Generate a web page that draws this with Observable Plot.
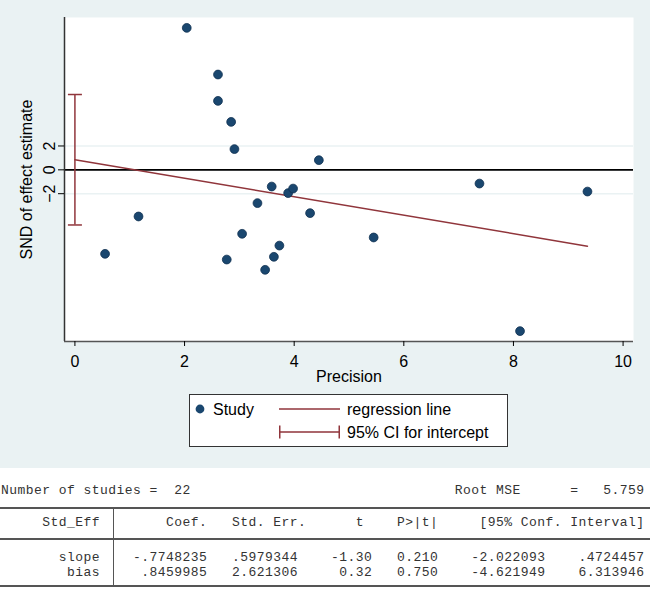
<!DOCTYPE html>
<html>
<head>
<meta charset="utf-8">
<script src="https://cdn.jsdelivr.net/npm/d3@7"></script>
<script src="https://cdn.jsdelivr.net/npm/@observablehq/plot@0.6"></script>
<style>
  html, body { margin: 0; padding: 0; background: #ffffff; }
  #page { position: relative; width: 650px; height: 590px; overflow: hidden; background: #ffffff; }
  #graph { position: absolute; left: 0; top: 0; width: 650px; height: 468px; background: #eaf2f3; }
  #legend { position: absolute; left: 189px; top: 394px; }
  #table { position: absolute; left: 0; top: 468px; width: 650px; height: 122px; background: #ffffff;
           font-family: "Liberation Mono", "Courier New", monospace; font-size: 13px; letter-spacing: 0.45px; color: #333; }
  .row { position: absolute; left: 1px; white-space: pre; line-height: 12px; height: 12px; }
  .hr { position: absolute; left: 0; width: 650px; height: 2px; background: #555; }
  .vr { position: absolute; width: 1.5px; background: #555; }
</style>
</head>
<body>
<div id="page">
  <div id="graph"></div>
  <div id="table"></div>
</div>
<script>
// ---- data ----
const precision = [2.04, 2.61, 2.61, 2.85, 2.91, 4.45, 3.59, 3.89, 3.98, 7.38, 9.35,
                   3.33, 1.16, 4.29, 3.05, 0.55, 2.77, 3.73, 3.63, 3.47, 5.45, 8.12];
const snd       = [11.90, 7.99, 5.78, 4.02, 1.74, 0.81, -1.40, -1.95, -1.57, -1.15, -1.82,
                   -2.79, -3.91, -3.63, -5.36, -7.04, -7.52, -6.35, -7.29, -8.38, -5.67, -13.52];
const termNames = ["slope", "bias"];
const coef   = ["-.7748235", ".8459985"];
const stdErr = [".5979344", "2.621306"];
const tStat  = ["-1.30", "0.32"];
const pVal   = ["0.210", "0.750"];
const ciLo   = ["-2.022093", "-4.621949"];
const ciHi   = [".4724457", "6.313946"];
const nStudies = 22;
const rootMSE = "5.759";
const xTicks = [0, 2, 4, 6, 8, 10];
const yTicks = [-2, 0, 2];
const xDomain = [-0.19, 10.19];
const yDomain = [-14.39, 12.77];

const navy = "#1a476f", maroon = "#90353b";
const slopeVal = +coef[0], biasVal = +coef[1];
const studies = precision.map((x, i) => ({x, y: snd[i]}));
const xMax = d3.max(studies, d => d.x);
const regression = [{x: 0, y: biasVal}, {x: xMax, y: biasVal + slopeVal * xMax}];
const ci = [{x: 0, lo: +ciLo[1], hi: +ciHi[1]}];
const caps = [{x: 0, y: +ciLo[1]}, {x: 0, y: +ciHi[1]}];
const capSymbol = { draw(ctx, size) { const h = Math.sqrt(size / Math.PI); ctx.moveTo(-h, 0); ctx.lineTo(h, 0); } };

const chart = Plot.plot({
  width: 650, height: 390,
  marginTop: 17, marginLeft: 64, marginRight: 17, marginBottom: 49,
  style: { background: "transparent", fontFamily: "'Liberation Sans', Arial, sans-serif", fontSize: "16px", color: "#000" },
  x: { domain: xDomain },
  y: { domain: yDomain },
  marks: [
    Plot.frame({ fill: "white", stroke: null }),
    Plot.gridY(yTicks, { stroke: "#eaf2f3", strokeOpacity: 1, strokeWidth: 1.5 }),
    Plot.ruleY([0], { stroke: "#000", strokeWidth: 1.6 }),
    Plot.ruleX([xDomain[0]], { stroke: "#333", strokeWidth: 1.5 }),
    Plot.ruleY([yDomain[0]], { stroke: "#555", strokeWidth: 1.5 }),
    Plot.ruleX(ci, { x: "x", y1: "lo", y2: "hi", stroke: maroon, strokeWidth: 1.5 }),
    Plot.dot(caps, { x: "x", y: "y", r: 7, symbol: capSymbol, stroke: maroon, fill: "none", strokeWidth: 1.5 }),
    Plot.line(regression, { x: "x", y: "y", stroke: maroon, strokeWidth: 1.5 }),
    Plot.dot(studies, { x: "x", y: "y", r: 4.4, fill: navy, stroke: "#0f3050", strokeWidth: 0.8 }),
    Plot.axisX(xTicks, { tickSize: 5, tickPadding: 9, label: "Precision", labelAnchor: "center", labelOffset: 40, labelArrow: "none" }),
    Plot.axisY(yTicks, { tickSize: 6, tickPadding: 4, tickRotate: -90, label: "SND of effect estimate", labelAnchor: "center", labelOffset: 44, labelArrow: "none" })
  ]
});
document.getElementById("graph").appendChild(chart);

// ---- legend ----
const lg = d3.select("#graph").append("svg").attr("id", "legend").attr("width", 319).attr("height", 53)
  .style("font-family", "'Liberation Sans', Arial, sans-serif").style("font-size", "16px");
lg.append("rect").attr("x", 0.5).attr("y", 0.5).attr("width", 318).attr("height", 52).attr("fill", "white").attr("stroke", "#333");
lg.append("circle").attr("cx", 11).attr("cy", 15).attr("r", 4.4).attr("fill", navy);
lg.append("text").attr("x", 24).attr("y", 21).text("Study");
lg.append("line").attr("x1", 90).attr("x2", 151).attr("y1", 15).attr("y2", 15).attr("stroke", maroon).attr("stroke-width", 1.5);
lg.append("text").attr("x", 158).attr("y", 21).text("regression line");
lg.append("path").attr("d", "M90,38H151M90.75,31.5V44.5M150.25,31.5V44.5").attr("stroke", maroon).attr("stroke-width", 1.5).attr("fill", "none");
lg.append("text").attr("x", 158).attr("y", 44).text("95% CI for intercept");

// ---- regression table ----
const pad = (s, n) => String(s).padStart(n, " ");
const tbl = d3.select("#table");
const rows = [
  { top: 491, text: ("Number of studies =  " + nStudies).padEnd(55, " ") + "Root MSE      =" + pad(rootMSE, 8) },
  { top: 523, text: pad("Std_Eff", 12) + "  " + pad("Coef.", 11) + pad("Std. Err.", 12) + pad("t", 7) + pad("P>|t|", 9) + pad("[95% Conf. Interval]", 25) }
];
termNames.forEach((nm, i) => rows.push({
  top: 558 + i * 15,
  text: pad(nm, 12) + "  " + pad(coef[i], 11) + pad(stdErr[i], 11) + pad(tStat[i], 9) + pad(pVal[i], 8) + pad(ciLo[i], 13) + pad(ciHi[i], 12)
}));
rows.forEach(r => {
  tbl.append("div").attr("class", "row").style("top", (r.top - 468 - 6) + "px").text(r.text);
});
[508, 539, 586].forEach(y => tbl.append("div").attr("class", "hr").style("top", (y - 468 - 1) + "px"));
tbl.append("div").attr("class", "vr").style("left", "112.5px").style("top", (508 - 468) + "px").style("height", (586 - 508) + "px");
</script>
</body>
</html>
